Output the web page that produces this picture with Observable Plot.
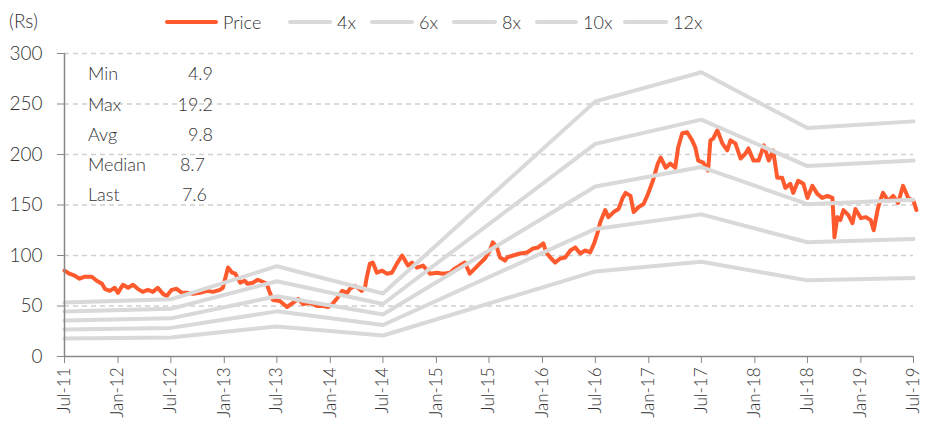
<!DOCTYPE html>
<html><head><meta charset="utf-8">
<script src="https://cdn.jsdelivr.net/npm/d3@7"></script>
<script src="https://cdn.jsdelivr.net/npm/@observablehq/plot@0.6"></script>
<style>
body{margin:0;background:#fff;font-family:Lato,"Open Sans",sans-serif;color:#333;font-weight:300;}
#wrap{position:relative;width:930px;height:428px;overflow:hidden;}
#wrap svg{position:absolute;left:0;top:0;}
.ov{position:absolute;font-size:19px;line-height:22px;white-space:nowrap;color:#333;}
.sw{position:absolute;height:4px;border-radius:2px;top:20px;}
.lt{position:absolute;top:11px;font-size:18px;line-height:22px;color:#333;white-space:nowrap;}
.row{position:absolute;left:88px;width:125px;height:22px;font-size:18px;line-height:22px;}
.row .v{position:absolute;top:0;}
</style></head><body><div id="wrap"></div>
<script>
// ---- data ----
const priceDates = ["2011-07-01","2011-07-18","2011-08-05","2011-08-22","2011-09-09","2011-10-03","2011-10-20","2011-11-07","2011-11-17","2011-12-04","2011-12-21","2012-01-01","2012-01-18","2012-02-05","2012-02-22","2012-03-09","2012-03-26","2012-04-13","2012-04-30","2012-05-17","2012-06-04","2012-06-17","2012-07-04","2012-07-21","2012-08-08","2012-08-28","2012-09-15","2012-10-09","2012-11-03","2012-11-23","2012-12-17","2012-12-27","2013-01-11","2013-01-14","2013-01-28","2013-02-08","2013-02-25","2013-03-12","2013-03-22","2013-04-09","2013-04-26","2013-05-13","2013-05-27","2013-06-07","2013-06-17","2013-07-11","2013-08-05","2013-08-25","2013-09-12","2013-09-29","2013-10-23","2013-11-16","2013-12-07","2013-12-24","2014-01-08","2014-01-25","2014-02-11","2014-02-28","2014-03-09","2014-03-26","2014-04-06","2014-04-19","2014-04-30","2014-05-06","2014-05-17","2014-05-27","2014-06-10","2014-06-28","2014-07-14","2014-08-01","2014-08-18","2014-09-05","2014-09-15","2014-09-25","2014-10-09","2014-10-26","2014-11-16","2014-12-10","2015-01-03","2015-01-24","2015-02-17","2015-03-05","2015-03-22","2015-04-09","2015-04-26","2015-05-13","2015-05-30","2015-06-17","2015-07-04","2015-07-14","2015-07-28","2015-08-08","2015-08-25","2015-09-01","2015-09-22","2015-10-16","2015-11-09","2015-11-30","2015-12-17","2016-01-04","2016-01-14","2016-01-28","2016-02-14","2016-03-02","2016-03-19","2016-04-06","2016-04-23","2016-05-10","2016-05-27","2016-06-13","2016-06-27","2016-07-08","2016-07-18","2016-08-04","2016-08-15","2016-09-02","2016-09-19","2016-10-03","2016-10-13","2016-10-30","2016-11-10","2016-11-27","2016-12-14","2016-12-28","2017-01-15","2017-02-01","2017-02-11","2017-02-28","2017-03-16","2017-04-02","2017-04-12","2017-04-26","2017-05-13","2017-05-30","2017-06-10","2017-06-20","2017-07-07","2017-07-24","2017-08-01","2017-08-11","2017-08-25","2017-09-11","2017-09-28","2017-10-09","2017-10-26","2017-11-13","2017-11-30","2017-12-10","2017-12-27","2018-01-14","2018-02-01","2018-02-18","2018-03-05","2018-03-19","2018-04-05","2018-04-16","2018-05-03","2018-05-13","2018-05-30","2018-06-17","2018-07-01","2018-07-18","2018-08-04","2018-08-21","2018-09-08","2018-09-25","2018-10-02","2018-10-12","2018-10-22","2018-11-02","2018-11-19","2018-12-03","2018-12-13","2019-01-01","2019-01-18","2019-02-04","2019-02-14","2019-02-28","2019-03-08","2019-03-18","2019-04-05","2019-04-22","2019-05-09","2019-05-26","2019-06-13","2019-07-01","2019-07-11"];
const priceValues = [85,82,80,77,79,79,75,72,67,65,68,63,71,68,71,67,64,66,64,68,62,60,66,67,63,63,62,63,65,64,66,68,85,88,83,82,73,75,72,73,76,74,72,63,56,55,49,53,57,52,53,50,50,49,52,58,65,63,67,70,68,65,68,78,92,93,83,85,82,83,92,100,95,90,93,88,90,82,83,82,83,87,90,93,82,87,92,97,105,113,108,98,95,98,100,102,103,107,108,112,103,98,93,97,98,105,108,102,105,103,112,122,133,145,138,143,146,157,162,159,143,148,151,160,174,191,197,187,191,187,207,221,222,214,207,194,192,184,214,216,224,211,204,214,211,196,201,206,194,194,209,194,204,177,177,167,171,162,174,171,157,169,161,157,159,157,118,138,135,145,140,132,146,137,138,135,125,146,154,162,154,159,152,169,157,154,145];
const epsDates = ["2011-07-01","2012-07-01","2013-07-01","2014-07-01","2016-07-01","2017-07-01","2018-07-01","2019-07-01"];
const epsValues = [4.45,4.72,7.45,5.2,21.05,23.45,18.85,19.4];
const multiples = [4,6,8,10,12];
const multipleLabels = ["4x","6x","8x","10x","12x"];
const statLabels = ["Min","Max","Avg","Median","Last"];
const statValues = ["4.9","19.2","9.8","8.7","7.6"];
const yTicks = [0,50,100,150,200,250,300];
const xTicks = ["2011-07-01","2012-01-01","2012-07-01","2013-01-01","2013-07-01","2014-01-01","2014-07-01","2015-01-01","2015-07-01","2016-01-01","2016-07-01","2017-01-01","2017-07-01","2018-01-01","2018-07-01","2019-01-01","2019-07-01"];
const unitLabel = "(Rs)";
const priceColor = "#ff5a2d";
const bandColor = "#d9d9d9";

// ---- build ----
const price = priceDates.map((d,i)=>({date:new Date(d), value:priceValues[i]}));
const bands = multiples.flatMap((m,j)=>epsDates.map((d,i)=>({date:new Date(d), value:m*epsValues[i], band:multipleLabels[j]})));
const xDomain = [new Date(xTicks[0]), new Date(xTicks[xTicks.length-1])];

const chart = Plot.plot({
  width:930, height:428,
  marginLeft:64, marginRight:17, marginTop:53, marginBottom:72,
  x:{type:"utc", domain:xDomain},
  y:{domain:[0,300]},
  style:{fontFamily:"Lato, 'Open Sans', sans-serif", fontSize:"17px", color:"#333", background:"transparent", fontWeight:300},
  marks:[
    Plot.ruleY(yTicks.filter(v=>v>0), {stroke:"#d0d0d0", strokeWidth:1.3, strokeDasharray:"5,4"}),
    Plot.lineY(price, {x:"date", y:"value", stroke:priceColor, strokeWidth:4, strokeLinejoin:"round"}),
    Plot.lineY(bands, {x:"date", y:"value", z:"band", stroke:bandColor, strokeWidth:4, strokeLinejoin:"round"}),
    Plot.axisY({ticks:yTicks, tickSize:7, tickPadding:15, label:null, stroke:"#888", fill:"#333", fontSize:19}),
    Plot.axisX({ticks:xTicks.map(d=>new Date(d)), tickFormat:d3.utcFormat("%b-%y"), tickRotate:-90, tickSize:7, tickPadding:4, label:null, stroke:"#888", fill:"#333", fontSize:17}),
    Plot.ruleX([xDomain[0]], {stroke:"#888", strokeWidth:1.5}),
    Plot.ruleY([0], {stroke:"#888", strokeWidth:1.5})
  ]
});
const wrap = document.getElementById("wrap");
wrap.appendChild(chart);

// unit label
const u = document.createElement("div");
u.className = "ov"; u.style.left = "9px"; u.style.top = "10px"; u.textContent = unitLabel;
wrap.appendChild(u);

// legend
const legendItems = [{label:"Price", color:priceColor}].concat(multipleLabels.map(l=>({label:l, color:bandColor})));
const swatchLeft = [165, 288, 370, 452, 535, 623];
const swatchWidth = [53, 44, 44, 45, 43, 45];
legendItems.forEach((it,i)=>{
  const s = document.createElement("div"); s.className = "sw";
  s.style.left = swatchLeft[i]+"px"; s.style.width = swatchWidth[i]+"px"; s.style.background = it.color;
  const t = document.createElement("div"); t.className = "lt";
  t.style.left = (swatchLeft[i]+swatchWidth[i]+5)+"px"; t.textContent = it.label;
  wrap.appendChild(s); wrap.appendChild(t);
});

// stats box
const rowTops = [62, 93, 123, 153, 183];
const valRight = [0, 0, 0, 8, 6];
statLabels.forEach((l,i)=>{
  const r = document.createElement("div"); r.className = "row"; r.style.top = rowTops[i]+"px";
  const a = document.createElement("span"); a.textContent = l;
  const b = document.createElement("span"); b.className = "v"; b.style.right = valRight[i]+"px"; b.textContent = statValues[i];
  r.appendChild(a); r.appendChild(b); wrap.appendChild(r);
});
</script>
</body></html>
